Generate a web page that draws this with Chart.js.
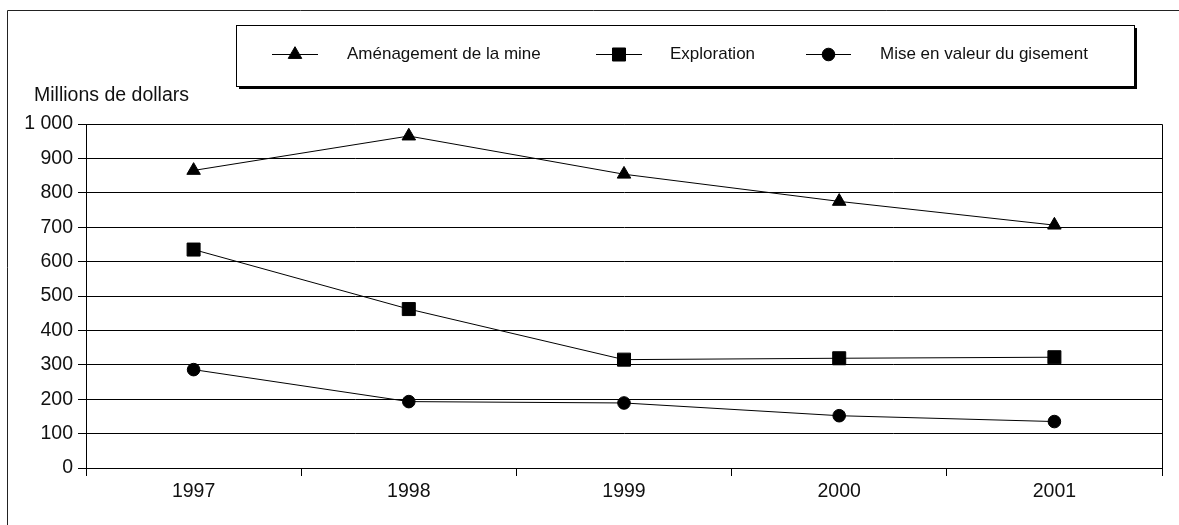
<!DOCTYPE html>
<html lang="fr">
<head>
<meta charset="utf-8">
<title>Dépenses minières</title>
<script src="https://cdn.jsdelivr.net/npm/chart.js@4/dist/chart.umd.min.js"></script>
<style>
  html, body { margin: 0; padding: 0; background: #fff; }
  #wrap { width: 1179px; height: 525px; position: relative; }
</style>
</head>
<body>
<div id="wrap"><canvas id="c" width="1179" height="525"></canvas></div>
<script>
// Years on the horizontal axis
const years = ['1997', '1998', '1999', '2000', '2001'];

// Spending in millions of dollars
const amenagement = [865, 965, 854, 775, 706];
const exploration = [635, 462, 315, 319, 322];
const miseEnValeur = [286, 193, 189, 152, 135];

// Series names shown in the legend
const seriesNames = ['Aménagement de la mine', 'Exploration', 'Mise en valeur du gisement'];

// Y axis bounds and title
const yMin = 0, yMax = 1000, yStep = 100;
const yTitle = 'Millions de dollars';

const FONT = '"Liberation Sans", Arial, sans-serif';
const INK = '#000';

// Thousands with a space, French style
function fmt(v) {
  return String(v).replace(/\B(?=(\d{3})+(?!\d))/g, ' ');
}

// Frame, plot border, y title and a boxed legend with line+marker samples
const decorations = {
  id: 'decorations',
  afterDraw(chart) {
    const ctx = chart.ctx;
    const a = chart.chartArea;
    ctx.save();

    // outer frame (left and top edges)
    ctx.strokeStyle = '#222';
    ctx.lineWidth = 1;
    ctx.beginPath();
    ctx.moveTo(7.5, 525);
    ctx.lineTo(7.5, 10.5);
    ctx.lineTo(1179, 10.5);
    ctx.stroke();

    // plot area border
    ctx.strokeStyle = INK;
    ctx.beginPath();
    ctx.rect(Math.round(a.left) + 0.5, Math.round(a.top) + 0.5,
             Math.round(a.right - a.left), Math.round(a.bottom - a.top));
    ctx.stroke();

    // y axis title
    ctx.fillStyle = '#111';
    ctx.font = '19.5px ' + FONT;
    ctx.textAlign = 'left';
    ctx.textBaseline = 'middle';
    ctx.fillText(yTitle, 34, 96);

    // legend box with shadow
    const bx = 236, by = 25, bw = 898, bh = 61;
    ctx.fillStyle = '#000';
    ctx.fillRect(bx + 3, by + 3, bw, bh);
    ctx.fillStyle = '#fff';
    ctx.fillRect(bx, by, bw, bh);
    ctx.strokeStyle = '#000';
    ctx.strokeRect(bx + 0.5, by + 0.5, bw, bh);

    const items = [
      { x0: 272, x1: 318, tx: 347 },
      { x0: 596, x1: 642, tx: 670 },
      { x0: 806, x1: 851, tx: 880 }
    ];
    const ly = 54;
    chart.data.datasets.forEach((ds, i) => {
      const it = items[i];
      ctx.strokeStyle = INK;
      ctx.lineWidth = 1;
      ctx.beginPath();
      ctx.moveTo(it.x0, ly + 0.5);
      ctx.lineTo(it.x1, ly + 0.5);
      ctx.stroke();
      ctx.fillStyle = INK;
      Chart.helpers.drawPoint(ctx, {
        pointStyle: ds.pointStyle,
        radius: ds.pointRadius,
        rotation: 0,
        borderWidth: 1
      }, (it.x0 + it.x1) / 2, ly + 0.5);
      ctx.fillStyle = '#111';
      ctx.font = '17px ' + FONT;
      ctx.textAlign = 'left';
      ctx.textBaseline = 'middle';
      ctx.fillText(ds.label, it.tx, ly);
    });

    ctx.restore();
  }
};

function series(label, data, style, radius) {
  return {
    label: label,
    data: data,
    borderColor: INK,
    backgroundColor: INK,
    borderWidth: 1,
    pointStyle: style,
    pointRadius: radius,
    pointHoverRadius: radius,
    pointBackgroundColor: INK,
    pointBorderColor: INK,
    pointBorderWidth: 1,
    tension: 0,
    fill: false
  };
}

new Chart(document.getElementById('c'), {
  type: 'line',
  data: {
    labels: years,
    datasets: [
      series(seriesNames[0], amenagement, 'triangle', 7.8),
      series(seriesNames[1], exploration, 'rect', 9.2),
      series(seriesNames[2], miseEnValeur, 'circle', 6.3)
    ]
  },
  options: {
    responsive: false,
    animation: false,
    devicePixelRatio: 1,
    layout: { padding: { top: 124, right: 17, left: 0, bottom: 0 } },
    plugins: {
      legend: { display: false },
      title: { display: false },
      tooltip: { enabled: false }
    },
    scales: {
      x: {
        type: 'category',
        offset: true,
        grid: {
          offset: true,
          drawOnChartArea: false,
          drawTicks: true,
          tickLength: 8,
          color: INK,
          lineWidth: 1
        },
        border: { display: true, color: INK, width: 1 },
        ticks: {
          color: '#111',
          font: { family: FONT, size: 19.5 },
          padding: 4,
          maxRotation: 0
        },
        afterFit(scale) { scale.height = 525 - 468; }
      },
      y: {
        min: yMin,
        max: yMax,
        grid: {
          drawTicks: true,
          tickLength: 8,
          color: INK,
          lineWidth: 1
        },
        border: { display: true, color: INK, width: 1 },
        ticks: {
          stepSize: yStep,
          color: '#111',
          font: { family: FONT, size: 19.5 },
          padding: 5,
          callback: (v) => fmt(v)
        },
        afterFit(scale) { scale.width = 86; }
      }
    }
  },
  plugins: [decorations]
});
</script>
</body>
</html>
